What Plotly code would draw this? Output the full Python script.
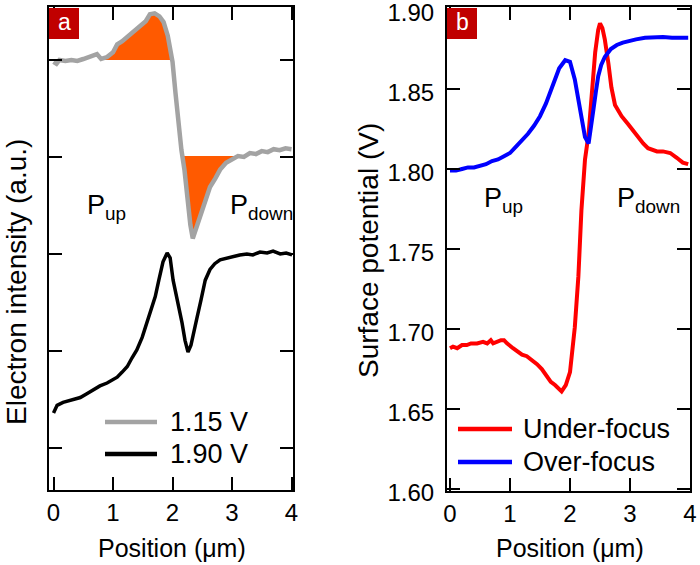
import numpy as np
import plotly.graph_objects as go

W, H = 700, 565

# ---------------- Panel a data (arbitrary units) ----------------
pos_115 = [0.00, 0.05, 0.10, 0.20, 0.30, 0.40, 0.50, 0.60, 0.73, 0.80, 0.90, 1.00, 1.07, 1.15, 1.25,
           1.35, 1.45, 1.55, 1.62, 1.70, 1.78, 1.85, 1.92, 1.97, 2.00, 2.05, 2.10, 2.15, 2.20, 2.25,
           2.30, 2.34, 2.40, 2.47, 2.55, 2.63, 2.72, 2.80, 2.90, 3.00, 3.10, 3.20, 3.30, 3.40, 3.50,
           3.60, 3.70, 3.80, 3.90, 4.00]
int_115 = [3.98, 3.96, 4.00, 3.99, 4.00, 3.99, 4.01, 4.03, 4.06, 4.01, 4.03, 4.08, 4.16, 4.19, 4.24,
           4.29, 4.34, 4.40, 4.47, 4.48, 4.45, 4.39, 4.25, 4.10, 3.98, 3.66, 3.33, 3.07, 2.87, 2.56,
           2.30, 2.16, 2.27, 2.42, 2.56, 2.69, 2.78, 2.87, 2.94, 2.97, 3.01, 3.00, 3.04, 3.03, 3.06,
           3.05, 3.08, 3.07, 3.09, 3.08]

pos_190 = [0.00, 0.06, 0.16, 0.28, 0.45, 0.56, 0.66, 0.78, 0.90, 1.00, 1.07, 1.15, 1.24, 1.32, 1.40,
           1.49, 1.57, 1.64, 1.71, 1.77, 1.84, 1.91, 1.96, 2.01, 2.08, 2.16, 2.21, 2.26, 2.31, 2.36,
           2.41, 2.48, 2.55, 2.63, 2.71, 2.80, 2.92, 3.02, 3.13, 3.25, 3.35, 3.47, 3.59, 3.69, 3.81,
           3.91, 4.01]
int_190 = [0.36, 0.44, 0.47, 0.49, 0.52, 0.56, 0.60, 0.64, 0.67, 0.70, 0.73, 0.78, 0.84, 0.93, 1.01,
           1.14, 1.29, 1.44, 1.56, 1.73, 1.92, 2.01, 1.96, 1.73, 1.53, 1.29, 1.11, 0.99, 1.06, 1.22,
           1.34, 1.53, 1.73, 1.84, 1.90, 1.94, 1.96, 1.98, 1.99, 2.00, 1.99, 2.02, 2.01, 2.03, 2.00,
           2.01, 1.99]

# shaded regions of the 1.15 V trace: (start, end, baseline level)
fill_regions = [(0.78, 2.00, 4.00), (2.19, 3.12, 3.01)]

# ---------------- Panel b data (V) ----------------
pos_under = [0.00, 0.05, 0.12, 0.20, 0.28, 0.35, 0.45, 0.55, 0.62, 0.68, 0.72, 0.78, 0.85, 0.90, 0.95,
             1.05, 1.12, 1.20, 1.28, 1.36, 1.45, 1.53, 1.60, 1.68, 1.75, 1.86, 1.93, 2.00, 2.08, 2.14,
             2.19, 2.25, 2.31, 2.36, 2.42, 2.47, 2.50, 2.54, 2.58, 2.64, 2.69, 2.75, 2.86, 2.97, 3.05,
             3.15, 3.22, 3.30, 3.45, 3.55, 3.67, 3.78, 3.88, 3.97]
v_under = [1.688, 1.689, 1.688, 1.690, 1.690, 1.691, 1.691, 1.692, 1.691, 1.693, 1.691, 1.692, 1.693,
           1.693, 1.691, 1.688, 1.686, 1.684, 1.683, 1.681, 1.678, 1.675, 1.671, 1.667, 1.665, 1.661,
           1.665, 1.673, 1.701, 1.733, 1.774, 1.806, 1.822, 1.848, 1.873, 1.887, 1.891, 1.888, 1.881,
           1.866, 1.851, 1.840, 1.833, 1.828, 1.824, 1.819, 1.816, 1.813, 1.811, 1.811, 1.810, 1.807,
           1.804, 1.803]

pos_over = [0.00, 0.10, 0.20, 0.30, 0.40, 0.50, 0.60, 0.70, 0.80, 0.90, 1.00, 1.10, 1.20, 1.30, 1.40,
            1.50, 1.60, 1.72, 1.82, 1.92, 2.00, 2.08, 2.17, 2.25, 2.31, 2.35, 2.39, 2.43, 2.47, 2.52,
            2.58, 2.68, 2.78, 2.88, 2.98, 3.10, 3.25, 3.40, 3.55, 3.70, 3.85, 3.97]
v_over = [1.799, 1.799, 1.800, 1.801, 1.801, 1.802, 1.803, 1.805, 1.806, 1.808, 1.810, 1.814, 1.818,
          1.822, 1.827, 1.833, 1.841, 1.854, 1.863, 1.868, 1.867, 1.856, 1.837, 1.820, 1.816, 1.825,
          1.837, 1.848, 1.858, 1.865, 1.870, 1.875, 1.8775, 1.879, 1.880, 1.881, 1.882, 1.8825, 1.8825,
          1.882, 1.882, 1.882]

x_ticks = [0, 1, 2, 3, 4]
x_ticklabels = ["0", "1", "2", "3", "4"]
ya_ticks = [0, 1, 2, 3, 4]
yb_ticks = [1.60, 1.65, 1.70, 1.75, 1.80, 1.85, 1.90]
yb_ticklabels = ["1.60", "1.65", "1.70", "1.75", "1.80", "1.85", "1.90"]

legend_a = ["1.15 V", "1.90 V"]
legend_b = ["Under-focus", "Over-focus"]

GRAY = "#a3a3a3"
ORANGE = "#ff5a00"
RED = "#ff0000"
BLUE = "#0000ff"
BOXRED = "#c00000"
FONT = "Arial, Liberation Sans, sans-serif"


def px(x):
    return x / W


def py(y):
    return 1 - y / H


fig = go.Figure()

# orange shaded areas
p115 = np.array(pos_115)
i115 = np.array(int_115)
for (x0, x1, base) in fill_regions:
    inside = (p115 > x0) & (p115 < x1)
    xs = [x0] + list(p115[inside]) + [x1]
    ys = [float(np.interp(x0, p115, i115))] + list(i115[inside]) + [float(np.interp(x1, p115, i115))]
    poly_x = xs + [x1, x0]
    poly_y = ys + [base, base]
    fig.add_trace(go.Scatter(x=poly_x, y=poly_y, fill="toself", fillcolor=ORANGE,
                             line=dict(width=0), mode="lines", hoverinfo="skip",
                             showlegend=False, xaxis="x", yaxis="y"))

fig.add_trace(go.Scatter(x=pos_115, y=int_115, mode="lines", name=legend_a[0],
                         line=dict(color=GRAY, width=4.5), showlegend=False, xaxis="x", yaxis="y"))
fig.add_trace(go.Scatter(x=pos_190, y=int_190, mode="lines", name=legend_a[1],
                         line=dict(color="black", width=3.5), showlegend=False, xaxis="x", yaxis="y"))

fig.add_trace(go.Scatter(x=pos_under, y=v_under, mode="lines", name=legend_b[0],
                         line=dict(color=RED, width=4), showlegend=False, xaxis="x2", yaxis="y2"))
fig.add_trace(go.Scatter(x=pos_over, y=v_over, mode="lines", name=legend_b[1],
                         line=dict(color=BLUE, width=4), showlegend=False, xaxis="x2", yaxis="y2"))

axis_common = dict(showline=True, linecolor="black", linewidth=2, mirror="allticks",
                   ticks="inside", ticklen=13, tickwidth=2, tickcolor="black",
                   showgrid=False, zeroline=False, ticklabeloverflow="allow",
                   automargin=False,
                   tickfont=dict(family=FONT, size=24, color="black"))

fig.update_layout(
    width=W, height=H,
    margin=dict(l=0, r=0, t=0, b=0, autoexpand=False),
    paper_bgcolor="white", plot_bgcolor="white",
    font=dict(family=FONT, color="black"),
    xaxis=dict(domain=[px(49), px(293)], range=[-0.076, 4.025], tickvals=x_ticks,
               ticktext=x_ticklabels, anchor="y", ticklabelstandoff=0, **axis_common),
    yaxis=dict(domain=[py(490), py(7)], range=[-0.433, 4.546], tickvals=ya_ticks,
               showticklabels=False, anchor="x", **axis_common),
    xaxis2=dict(domain=[px(447), px(690)], range=[-0.05, 4.0], tickvals=x_ticks,
                ticktext=x_ticklabels, anchor="y2", ticklabelstandoff=0, **axis_common),
    yaxis2=dict(domain=[py(491), py(7)], range=[1.59875, 1.90125], tickvals=yb_ticks,
                ticktext=yb_ticklabels, anchor="x2", ticklabelstandoff=6, ticklabelshift=4,
                **axis_common),
)

shapes = []
ann = []

# panel labels
for label, x0 in (("a", 49), ("b", 447)):
    shapes.append(dict(type="rect", xref="paper", yref="paper", x0=px(x0), x1=px(x0 + 30),
                       y0=py(39), y1=py(8), fillcolor=BOXRED, line=dict(width=0), layer="above"))
    ann.append(dict(text=label, xref="paper", yref="paper", x=px(x0 + 15), y=py(22),
                    xanchor="center", yanchor="middle", showarrow=False,
                    font=dict(family=FONT, size=23, color="white")))

# axis titles
ann.append(dict(text="Position (\u03bcm)", xref="paper", yref="paper", x=px(172), y=py(548),
                xanchor="center", yanchor="middle", showarrow=False,
                font=dict(family=FONT, size=25, color="black")))
ann.append(dict(text="Position (\u03bcm)", xref="paper", yref="paper", x=px(570), y=py(548),
                xanchor="center", yanchor="middle", showarrow=False,
                font=dict(family=FONT, size=25, color="black")))
ann.append(dict(text="Electron intensity (a.u.)", xref="paper", yref="paper", x=px(16), y=py(282),
                xanchor="center", yanchor="middle", textangle=-90, showarrow=False,
                font=dict(family=FONT, size=28, color="black")))
ann.append(dict(text="Surface potential (V)", xref="paper", yref="paper", x=px(368), y=py(251),
                xanchor="center", yanchor="middle", textangle=-90, showarrow=False,
                font=dict(family=FONT, size=28, color="black")))

# P_up / P_down labels
for txt, x, y in (("P<sub>up</sub>", 85, 207), ("P<sub>down</sub>", 228, 207),
                  ("P<sub>up</sub>", 482, 200), ("P<sub>down</sub>", 615, 200)):
    ann.append(dict(text=txt, xref="paper", yref="paper", x=px(x), y=py(y),
                    xanchor="left", yanchor="middle", showarrow=False,
                    font=dict(family=FONT, size=27, color="black")))

# legends
for i, (name, col, wid) in enumerate(((legend_a[0], GRAY, 4.5), (legend_a[1], "black", 4.5))):
    yy = 422 + 32 * i
    shapes.append(dict(type="line", xref="paper", yref="paper", x0=px(105), x1=px(157),
                       y0=py(yy), y1=py(yy), line=dict(color=col, width=wid)))
    ann.append(dict(text=name, xref="paper", yref="paper", x=px(168), y=py(yy),
                    xanchor="left", yanchor="middle", showarrow=False,
                    font=dict(family=FONT, size=27, color="black")))
for i, (name, col) in enumerate(((legend_b[0], RED), (legend_b[1], BLUE))):
    yy = 429 + 33 * i
    shapes.append(dict(type="line", xref="paper", yref="paper", x0=px(458), x1=px(512),
                       y0=py(yy), y1=py(yy), line=dict(color=col, width=4.5)))
    ann.append(dict(text=name, xref="paper", yref="paper", x=px(521), y=py(yy),
                    xanchor="left", yanchor="middle", showarrow=False,
                    font=dict(family=FONT, size=27, color="black")))

fig.update_layout(shapes=shapes, annotations=ann)

# remove the browser's default page margin so the figure sits at the window origin
fig.write_html("out.html", config={"displayModeBar": False},
               post_script="document.body.style.margin='0';document.body.style.overflow='hidden';")
